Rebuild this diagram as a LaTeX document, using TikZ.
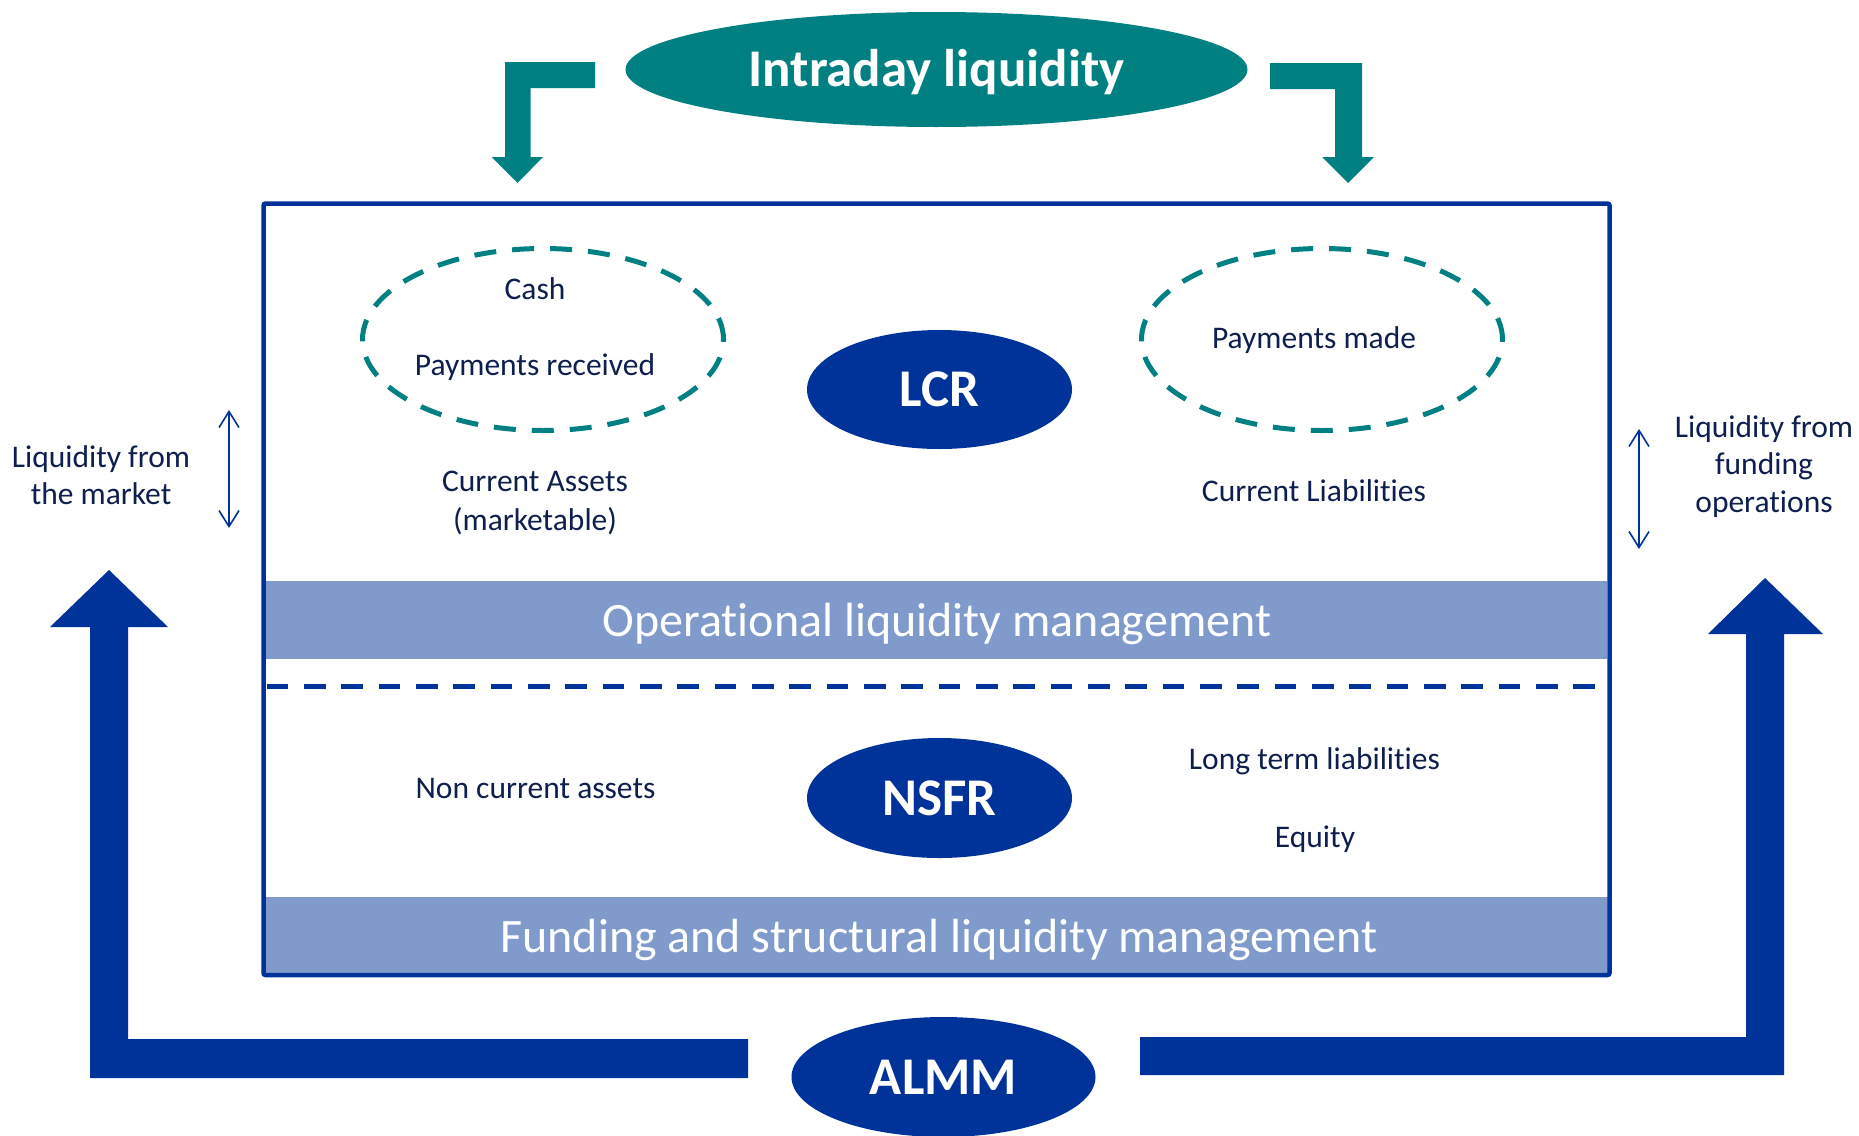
\documentclass[tikz,border=0pt]{standalone}
\usepackage{fontspec}
\setmainfont{Carlito}[Ligatures={NoCommon}]
\usetikzlibrary{shapes.geometric,arrows.meta}

\definecolor{tealc}{RGB}{0,128,128}
\definecolor{navy}{RGB}{0,51,153}
\definecolor{bandc}{RGB}{127,154,203}
\definecolor{inkc}{RGB}{14,30,78}

\begin{document}
\begin{tikzpicture}[x=1pt,y=-1pt,
  body/.style={font=\fontsize{31.5}{37.8}\selectfont, text=inkc, inner sep=0pt, anchor=base},
  bandtext/.style={font=\fontsize{48}{58}\selectfont, text=white, inner sep=0pt, anchor=base},
  solidoval/.style={ellipse, inner sep=0pt, text=white,
    font=\fontsize{53}{64}\selectfont\bfseries, text height=34pt, text depth=0pt},
  dashoval/.style={ellipse, draw=tealc, line width=5pt, inner sep=0pt,
    dash pattern=on 22pt off 16pt},
  flowarrow/.style={navy, line width=1.6pt,
    {Straight Barb[length=16pt,width=20pt]}-{Straight Barb[length=16pt,width=20pt]}},
]
\useasboundingbox (0,0) rectangle (1859,1135);

% management bands
\fill[bandc] (266,581) rectangle (1607,659);
\fill[bandc] (266,897) rectangle (1609,973);
\node[bandtext] (opband) at (937,636) {Operational liquidity management};
\node[bandtext] (fundband) at (939,952) {Funding and structural liquidity management};

% balance sheet frame
\draw[navy, line width=4.5pt, rounded corners=2pt] (263.5,203.5) rectangle (1609.5,975);

% separation between operational and structural parts
\coordinate (sepL) at (266.7,686);
\coordinate (sepR) at (1595,686);
\draw[navy, line width=5pt, dash pattern=on 21.7pt off 15.63pt] (sepL) -- (sepR);

% intraday liquidity and its block arrows
\node[solidoval, fill=tealc, minimum width=622pt, minimum height=115pt] (intraday) at (936.5,69.5) {Intraday liquidity};
\fill[tealc] (595,62) -- (505,62) -- (505,157) -- (491.5,157) -- (517.5,183) -- (543,157)
  -- (530.5,157) -- (530.5,88) -- (595,88) -- cycle;
\fill[tealc] (1270,63) -- (1362,63) -- (1362,157) -- (1374,157) -- (1348,183) -- (1322,157)
  -- (1335,157) -- (1335,89) -- (1270,89) -- cycle;

% ratios
\node[solidoval, fill=navy, minimum width=265pt, minimum height=119pt] (lcr) at (939.5,389.5) {LCR};
\node[solidoval, fill=navy, minimum width=265pt, minimum height=120pt] (nsfr) at (939.5,798) {NSFR};

% intraday flows
\node[dashoval, minimum width=361pt, minimum height=182pt] (received) at (543,339.5) {};
\node[dashoval, minimum width=361pt, minimum height=182pt] (made) at (1322,339.5) {};

% assets side
\node[body] (cash) at (535,299) {Cash};
\node[body] (payrec) at (535,375) {Payments received};
\node[body] (curass) at (535,491) {Current Assets};
\node[body] (mkt) at (535,530) {(marketable)};
\node[body] (noncur) at (535.5,798) {Non current assets};

% liabilities side
\node[body] (paymade) at (1314,348) {Payments made};
\node[body] (curliab) at (1314,501) {Current Liabilities};
\node[body] (longterm) at (1314.5,769) {Long term liabilities};
\node[body] (equity) at (1315,847) {Equity};

% outside liquidity sources
\node[body] (lm1) at (101,467) {Liquidity from};
\node[body] (lm2) at (101,504) {the market};
\node[body] (lf1) at (1764,437) {Liquidity from};
\node[body] (lf2) at (1764,474.5) {funding};
\node[body] (lf3) at (1764,512) {operations};

\coordinate (mktTop) at (229,410);
\coordinate (mktBot) at (229,528);
\coordinate (fundTop) at (1639,429);
\coordinate (fundBot) at (1639,549);
\draw[flowarrow] (mktTop) -- (mktBot);
\draw[flowarrow] (fundTop) -- (fundBot);

% ALMM and its block arrows
\node[solidoval, fill=navy, minimum width=304pt, minimum height=120pt] (almm) at (943.5,1077) {ALMM};
\fill[navy] (748,1039) -- (128,1039) -- (128,627) -- (168,627) -- (109,570) -- (50,627)
  -- (90,627) -- (90,1078) -- (748,1078) -- cycle;
\fill[navy] (1140,1037) -- (1746,1037) -- (1746,634) -- (1708,634) -- (1765,578) -- (1823,634)
  -- (1784,634) -- (1784,1075) -- (1140,1075) -- cycle;
\end{tikzpicture}
\end{document}
